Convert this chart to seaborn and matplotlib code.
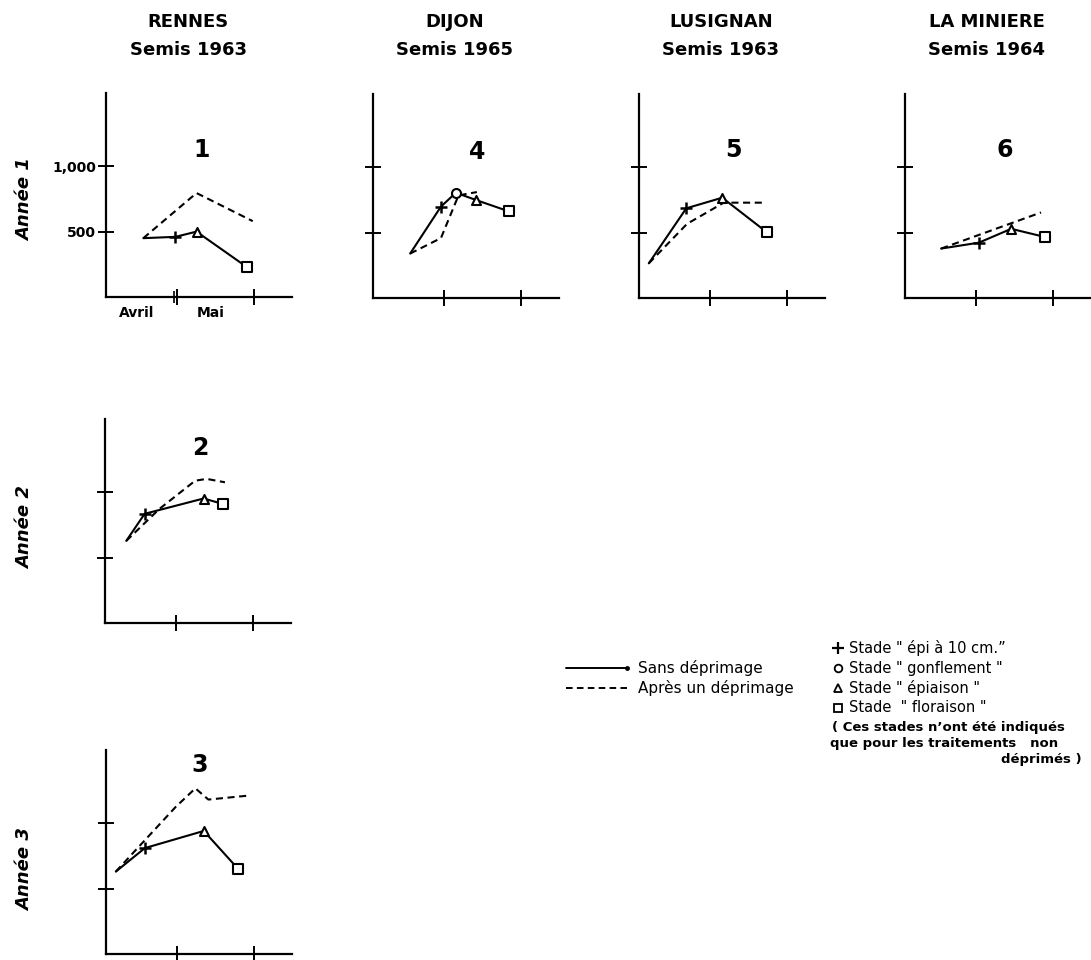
import matplotlib
matplotlib.use("Agg")
import matplotlib.pyplot as plt
import seaborn as sns
import pandas as pd

sns.set_theme(style="white")
plt.rcParams["font.family"] = ["DejaVu Sans"]
plt.rcParams["text.color"] = "black"
plt.rcParams["axes.labelcolor"] = "black"
plt.rcParams["xtick.color"] = "black"
plt.rcParams["ytick.color"] = "black"

# ---------------- data (x in months: 1 = 1er mai, 2 = 1er juin ; y = rendement) -------------
SITES = ["RENNES", "DIJON", "LUSIGNAN", "LA MINIERE"]
SOWINGS = ["Semis 1963", "Semis 1965", "Semis 1963", "Semis 1964"]
ROW_LABELS = ["Année 1", "Année 2", "Année 3"]
Y_TICKS = [500, 1000]
Y_TICK_LABELS = ["500", "1,000"]
MONTH_LABELS = ["Avril", "Mai"]

# panel 1 : Rennes, année 1
P1_SOLID_X = [0.56, 0.98, 1.255, 1.92]
P1_SOLID_Y = [450, 460, 500, 226]
P1_STAGE = [None, "epi", "epiaison", "floraison"]
P1_DASH_X = [0.56, 1.255, 1.99]
P1_DASH_Y = [450, 795, 580]

# panel 2 : Rennes, année 2
P2_SOLID_X = [0.35, 0.59, 1.36, 1.61]
P2_SOLID_Y = [628, 835, 952, 911]
P2_STAGE = [None, "epi", "epiaison", "floraison"]
P2_DASH_X = [0.35, 0.78, 1.25, 1.40, 1.64]
P2_DASH_Y = [628, 871, 1088, 1102, 1076]

# panel 3 : Rennes, année 3
P3_SOLID_X = [0.20, 0.58, 1.35, 1.80]
P3_SOLID_Y = [630, 810, 941, 650]
P3_STAGE = [None, "epi", "epiaison", "floraison"]
P3_DASH_X = [0.20, 0.98, 1.24, 1.41, 1.93]
P3_DASH_Y = [630, 1123, 1267, 1181, 1211]

# panel 4 : Dijon
P4_SOLID_X = [0.558, 0.96, 1.155, 1.415, 1.85]
P4_SOLID_Y = [340, 699, 805, 750, 662]
P4_STAGE = [None, "epi", "gonflement", "epiaison", "floraison"]
P4_DASH_X = [0.558, 0.96, 1.19, 1.43]
P4_DASH_Y = [340, 458, 785, 810]

# panel 5 : Lusignan
P5_SOLID_X = [0.20, 0.69, 1.16, 1.74]
P5_SOLID_Y = [265, 686, 767, 504]
P5_STAGE = [None, "epi", "epiaison", "floraison"]
P5_DASH_X = [0.20, 0.70, 1.18, 1.73]
P5_DASH_Y = [265, 567, 729, 729]

# panel 6 : La Minière
P6_SOLID_X = [0.544, 1.037, 1.46, 1.905]
P6_SOLID_Y = [378, 423, 529, 466]
P6_STAGE = [None, "epi", "epiaison", "floraison"]
P6_DASH_X = [0.544, 1.85]
P6_DASH_Y = [378, 654]

STAGE_MARKERS = {"epi": "+", "gonflement": "o", "epiaison": "^", "floraison": "s"}
STAGE_LEGEND = [("epi", 'Stade " épi à 10 cm.\u201d'),
                ("gonflement", 'Stade " gonflement "'),
                ("epiaison", 'Stade " épiaison "'),
                ("floraison", 'Stade  " floraison "')]
SERIES_LEGEND = ["Sans déprimage", "Après un déprimage"]

# ---------------- layout (pixels) ----------------
W, H = 1091, 960
fig = plt.figure(figsize=(W / 100, H / 100), dpi=100)

def rect(left, top, bottom, width=186):
    return [left / W, 1 - bottom / H, width / W, (bottom - top) / H]

PANELS = [
    ("1", rect(106, 93, 297), (P1_SOLID_X, P1_SOLID_Y, P1_STAGE, P1_DASH_X, P1_DASH_Y), (202, 150)),
    ("2", rect(105, 419, 623), (P2_SOLID_X, P2_SOLID_Y, P2_STAGE, P2_DASH_X, P2_DASH_Y), (200, 448)),
    ("3", rect(106, 750, 954), (P3_SOLID_X, P3_SOLID_Y, P3_STAGE, P3_DASH_X, P3_DASH_Y), (200, 765)),
    ("4", rect(373, 94, 298), (P4_SOLID_X, P4_SOLID_Y, P4_STAGE, P4_DASH_X, P4_DASH_Y), (477, 152)),
    ("5", rect(639, 94, 298), (P5_SOLID_X, P5_SOLID_Y, P5_STAGE, P5_DASH_X, P5_DASH_Y), (733, 150)),
    ("6", rect(905, 94, 298), (P6_SOLID_X, P6_SOLID_Y, P6_STAGE, P6_DASH_X, P6_DASH_Y), (1005, 150)),
]

LW = 1.5
for num, r, (sx, sy, st, dx, dy), _ in PANELS:
    ax = fig.add_axes(r)
    df = pd.concat([
        pd.DataFrame({"x": sx, "y": sy, "serie": "sans"}),
        pd.DataFrame({"x": dx, "y": dy, "serie": "apres"}),
    ], ignore_index=True)
    sns.lineplot(data=df, x="x", y="y", style="serie", units="serie", estimator=None,
                 sort=False, color="black", linewidth=LW,
                 dashes={"sans": "", "apres": (3.4, 2.2)}, legend=False, ax=ax)
    stages = pd.DataFrame({"x": sx, "y": sy, "stage": st}).dropna()
    for stg, mk in STAGE_MARKERS.items():
        sub = stages[stages["stage"] == stg]
        if sub.empty:
            continue
        if mk == "+":
            sns.scatterplot(data=sub, x="x", y="y", marker="+", s=70, color="black",
                            linewidth=1.8, ax=ax, zorder=5, legend=False)
        else:
            sns.scatterplot(data=sub, x="x", y="y", marker=mk, s=42, facecolor="white",
                            edgecolor="black", linewidth=1.5, ax=ax, zorder=5, legend=False)
    ax.set_xlim(0.072, 2.503)
    ax.set_ylim(0, 1560)
    ax.set_xticks([1, 2])
    ax.set_yticks(Y_TICKS)
    for s in ["top", "right"]:
        ax.spines[s].set_visible(False)
    for s in ["left", "bottom"]:
        ax.spines[s].set_color("black")
        ax.spines[s].set_linewidth(1.6)
    ax.tick_params(axis="both", which="major", direction="inout", length=12, width=1.4,
                   color="black", bottom=True, left=True)
    ax.set_xlabel("")
    ax.set_ylabel("")
    ax.set_xticklabels([])
    if num == "1":
        ax.set_yticklabels(Y_TICK_LABELS, fontsize=10, fontweight="bold", color="black")
        ax.tick_params(axis="y", pad=1)
        ax.set_xticks([0.965], minor=True)
        ax.tick_params(axis="x", which="minor", direction="inout", length=9, width=1.2,
                       bottom=True, color="black")
    else:
        ax.set_yticklabels([])
    ax.patch.set_alpha(0)

# ---------------- overlay for texts ----------------
ov = fig.add_axes([0, 0, 1, 1], zorder=-1)
ov.set_xlim(0, W)
ov.set_ylim(H, 0)
ov.axis("off")

axis_lefts = [106, 373, 639, 905]
for i, (site, sow) in enumerate(zip(SITES, SOWINGS)):
    cx = axis_lefts[i] + 82
    ov.text(cx, 22, site, ha="center", va="center", fontsize=13, fontweight="bold")
    ov.text(cx, 50, sow, ha="center", va="center", fontsize=13, fontweight="bold")

for num, _, _, (px, py) in PANELS:
    ov.text(px, py, num, ha="center", va="center", fontsize=17, fontweight="bold")

for lab, yc in zip(ROW_LABELS, [200, 528, 870]):
    ov.text(25, yc, lab, ha="center", va="center", rotation=90, fontsize=13,
            fontweight="bold", fontstyle="italic")

ov.text(137, 313, MONTH_LABELS[0], ha="center", va="center", fontsize=10, fontweight="bold")
ov.text(211, 313, MONTH_LABELS[1], ha="center", va="center", fontsize=10, fontweight="bold")

# series legend
ov.plot([566, 627], [668, 668], color="black", lw=1.4)
ov.plot([627], [668], marker="o", ms=2.5, color="black")
ov.plot([566, 627], [688, 688], color="black", lw=1.4, dashes=(3.4, 2.2))
ov.text(638, 668, SERIES_LEGEND[0], ha="left", va="center", fontsize=11)
ov.text(638, 688, SERIES_LEGEND[1], ha="left", va="center", fontsize=11)

# stage legend
for (stg, label), yc in zip(STAGE_LEGEND, [648, 668, 688, 708]):
    mk = STAGE_MARKERS[stg]
    if mk == "+":
        ov.plot([838], [yc], marker="+", ms=8, mew=1.6, color="black")
    else:
        ov.plot([838], [yc], marker=mk, ms=5.5, mew=1.3, mfc="white", mec="black")
    ov.text(849, yc, label, ha="left", va="center", fontsize=10.5)

ov.text(832, 727, "( Ces stades n\u2019ont été indiqués", ha="left", va="center",
        fontsize=9.5, fontweight="bold")
ov.text(830, 743, "que pour les traitements   non", ha="left", va="center",
        fontsize=9.5, fontweight="bold")
ov.text(1082, 759, "déprimés )", ha="right", va="center", fontsize=9.5, fontweight="bold")

fig.savefig("out.png", dpi=100, facecolor="white")
